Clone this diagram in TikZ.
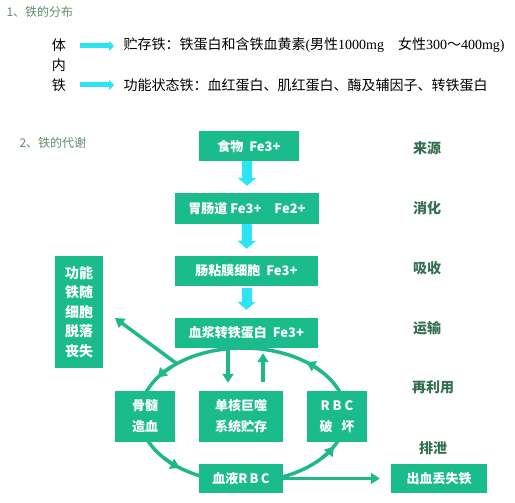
\documentclass[tikz,border=0pt]{standalone}
\usepackage{fontspec}
\setmainfont{Noto Sans CJK SC}
\newfontfamily\lat{Liberation Serif}
\usetikzlibrary{arrows.meta,calc}
\definecolor{boxgrn}{RGB}{26,188,140}
\definecolor{arrgrn}{RGB}{30,185,138}
\definecolor{arrcyn}{RGB}{45,228,244}
\definecolor{stggrn}{RGB}{52,112,80}
\definecolor{ttlgrn}{RGB}{96,140,108}
\tikzset{
  bx/.style    = {rectangle, fill=boxgrn, text=white, inner sep=0pt,
                  font=\bfseries\fontsize{13}{17}\selectfont, align=center},
  stg/.style   = {text=stggrn, font=\bfseries\fontsize{14}{16}\selectfont},
  ttl/.style   = {text=ttlgrn, font=\fontsize{12}{14}\selectfont, anchor=west},
  txt/.style   = {font=\fontsize{14}{16}\selectfont},
  cyn/.style   = {draw=arrcyn, line width=10pt, -{Triangle[width=18pt,length=8pt]}},
  cynsm/.style = {draw=arrcyn, line width=5pt, -{Triangle[width=10pt,length=5pt]}},
  grn/.style   = {draw=arrgrn, line width=3.5pt},
  grnar/.style = {grn, -{Triangle[width=11pt,length=9pt]}},
}
\begin{document}
\begin{tikzpicture}[x=1pt,y=-1pt]
  \useasboundingbox (0,0) rectangle (515,503);
  % distribution
  \node[ttl] (t1) at (3,12) {1、铁的分布};
  \node[txt] (ti) at (59,45) {体};
  \node[txt] (tn) at (59,65) {内};
  \node[txt] (tt) at (59,85) {铁};
  \node[txt, anchor=west] (st) at (120,45)
    {贮存铁：铁蛋白和含铁血黄素{\lat(}男性{\lat 1000mg}\quad 女性{\lat 300}～{\lat 400mg)}};
  \node[txt, anchor=west] (fn) at (120,85) {功能状态铁：血红蛋白、肌红蛋白、酶及辅因子、转铁蛋白};
  \coordinate (a1s) at (80,46);
  \coordinate (a1e) at (114,46);
  \coordinate (a2s) at (80,85);
  \coordinate (a2e) at (114,85);
  \draw[cynsm] (a1s) -- (a1e);
  \draw[cynsm] (a2s) -- (a2e);
  % metabolism
  \node[ttl] (t2) at (16,143) {2、铁的代谢};
  % cycle
  \coordinate (ec) at (243,415);
  \draw[grn] (ec) ellipse [x radius=103, y radius=67];
  \foreach \a in {214,128,28,308}
    \draw[grnar] ($(ec)+(\a+12:103 and 67)$)
      arc [start angle=\a+12, end angle=\a, x radius=103, y radius=67];
  \coordinate (ep) at ($(ec)+(230:103 and 67)$);
  \coordinate (sh) at (115,318);
  \draw[grnar] (ep) -- (sh);
  % boxes
  \node[bx, minimum width=100pt, minimum height=30pt] (food) at (249,146) {食物\ \ Fe3+};
  \node[bx, minimum width=144pt, minimum height=31pt] (gut)  at (247,208.5) {胃肠道 Fe3+\quad Fe2+};
  \node[bx, minimum width=143pt, minimum height=30pt] (muc)  at (246.5,271) {肠粘膜细胞\ \ Fe3+};
  \node[bx, minimum width=143pt, minimum height=30pt] (pla)  at (246.5,333) {血浆转铁蛋白\ \ Fe3+};
  \node[bx, minimum width=48pt, minimum height=112pt, font=\bfseries\fontsize{14}{19.5}\selectfont]
    (shed) at (79,312) {功能\\铁随\\细胞\\脱落\\丧失};
  \node[bx, minimum width=60pt, minimum height=51pt, font=\bfseries\fontsize{13}{21}\selectfont]
    (mar)  at (145,416.5) {骨髓\\造血};
  \node[bx, minimum width=84pt, minimum height=51pt, font=\bfseries\fontsize{13}{21}\selectfont]
    (mono) at (241,416.5) {单核巨噬\\系统贮存};
  \node[bx, minimum width=60pt, minimum height=51pt, font=\bfseries\fontsize{13}{21}\selectfont]
    (rbc)  at (337,416.5) {R\ B\ C\\破\ \ \ 坏};
  \node[bx, minimum width=84pt, minimum height=29pt] (blood) at (241,478.5) {血液R\,B\,C};
  \node[bx, minimum width=96pt, minimum height=29pt] (bleed) at (439,478.5) {出血丢失铁};
  % stages
  \node[stg] (s1) at (427,148) {来源};
  \node[stg] (s2) at (427,208) {消化};
  \node[stg] (s3) at (427,268) {吸收};
  \node[stg] (s4) at (427,328) {运输};
  \node[stg] (s5) at (433,387) {再利用};
  \node[stg] (s6) at (433,448) {排泄};
  % arrows
  \draw[cyn, shorten >=7pt] (gut.north |- food.south) -- (gut.north);
  \draw[cyn, shorten >=7pt] (gut.south) -- (muc.north);
  \draw[cyn, shorten <=2pt, shorten >=8pt] (muc.south) -- (pla.north);
  \draw[grnar, shorten >=8pt] ([xshift=-18.5pt]pla.south) -- ([xshift=-13pt]mono.north);
  \draw[grnar, shorten <=9pt, shorten >=5pt] ([xshift=22pt]mono.north) -- ([xshift=16.5pt]pla.south);
  \draw[grnar, shorten >=11pt] (blood.east) -- (bleed.west);
\end{tikzpicture}
\end{document}
